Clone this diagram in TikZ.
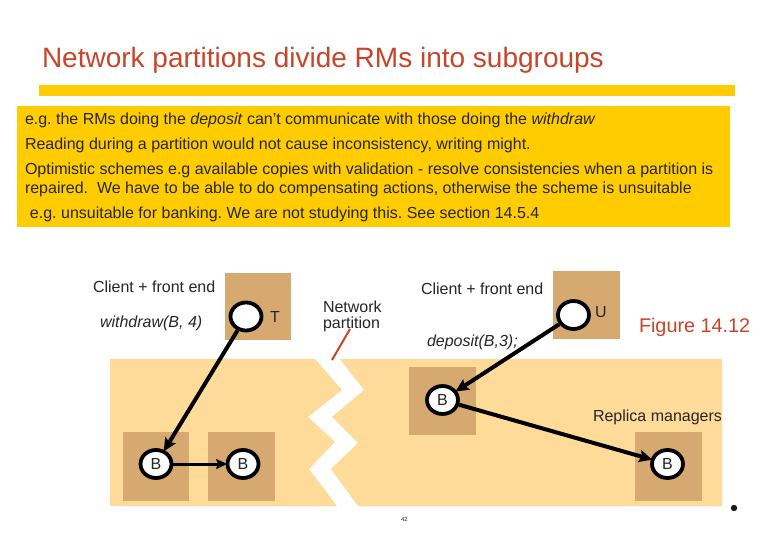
\documentclass[tikz,border=0pt]{standalone}
\usepackage{fontspec}
\setmainfont{Liberation Sans}
\usetikzlibrary{arrows.meta,shapes.geometric}
\definecolor{barY}{HTML}{FFCC00}
\definecolor{zone}{HTML}{FFDB99}
\definecolor{tanbox}{HTML}{D6A970}
\definecolor{redt}{HTML}{C8452A}
\tikzset{
  x=1pt,y=-1pt,
  txt/.style={anchor=base west,inner sep=0pt,outer sep=0pt,text=black!85},
  body/.style={txt,font=\fontsize{16}{18}\selectfont\frenchspacing},
  lbl/.style={txt,font=\fontsize{16}{18}\selectfont\frenchspacing},
  tanb/.style={fill=tanbox,draw=none},
  circ/.style={ellipse,draw=black,fill=white,line width=3.8pt,minimum width=31pt,minimum height=28pt,inner sep=0pt,font=\fontsize{16}{18}\selectfont,text=black!85},
  conn/.style={line width=4pt,draw=black,-{Stealth[length=13pt,width=12pt,inset=2pt]},shorten >=-1.5pt}
}
\begin{document}
\begin{tikzpicture}
\useasboundingbox (0,0) rectangle (780,540);
\fill[white] (0,0) rectangle (780,540);
% title
\node[txt,text=redt,font=\fontsize{28}{32}\selectfont] (title) at (42,68) {Network partitions divide RMs into subgroups};
\fill[barY] (39,85) rectangle (735,96);
\fill[barY] (17,106) rectangle (730,227);
\node[body] (l1) at (25,125) {e.g. the RMs doing the \textit{deposit} can't communicate with those doing the \textit{withdraw}};
\node[body] (l2) at (25,150) {Reading during a partition would not cause inconsistency, writing might.};
\node[body] (l3) at (25,175) {Optimistic schemes e.g available copies with validation - resolve consistencies when a partition is};
\node[body] (l4) at (25,194) {repaired.\ \ We have to be able to do compensating actions, otherwise the scheme is unsuitable};
\node[body] (l5) at (30,219) {e.g. unsuitable for banking. We are not studying this. See section 14.5.4};
% zones
\fill[zone] (110,359) -- (315,359) -- (342,390) -- (308,417) -- (335,442) -- (309,469) -- (337,506) -- (110,506) -- cycle;
\fill[zone] (340,359) -- (722,359) -- (722,506) -- (358,506) -- (331,469) -- (358,443) -- (332,417) -- (364,390) -- cycle;
% tan boxes
\fill[tanb] (225,273) rectangle (291,340);
\fill[tanb] (553,271) rectangle (620,339);
\fill[tanb] (409,367) rectangle (476,435);
\fill[tanb] (635,432) rectangle (702,501);
\fill[tanb] (123,432) rectangle (189,501);
\fill[tanb] (208,432) rectangle (275,501);
% labels
\node[lbl] (cfe1) at (93,293) {Client + front end};
\node[lbl] (cfe2) at (421,295) {Client + front end};
\node[lbl] (wd) at (100,328) {\textit{withdraw(B, 4)}};
\node[lbl] (dp) at (427,347) {\textit{deposit(B,3);}};
\node[lbl] (np1) at (323,313) {Network};
\node[lbl] (np2) at (323,329) {partition};
\node[lbl] (rm) at (593,421) {Replica managers};
\node[txt,text=redt,font=\fontsize{19.8}{22}\selectfont] (fig) at (639,333) {Figure 14.12};
\node[txt,font=\fontsize{6}{7}\selectfont] (pg) at (401,521) {42};
\node[lbl,anchor=base] (tl) at (275,323) {T};
\node[lbl,anchor=base] (ul) at (601,318) {U};
% circles
\node[circ] (T) at (246,316.5) {};
\node[circ] (U) at (573.5,315) {};
\node[circ] (Bm) at (442.5,400) {B};
\node[circ] (Br) at (667.5,464) {B};
\node[circ] (Bl) at (156,464) {B};
\node[circ] (Bn) at (243,464) {B};
% connectors
\draw[conn] (T) -- (Bl);
\draw[conn,line width=3pt,-{Stealth[length=11pt,width=10pt,inset=2pt]}] (Bl) -- (Bn);
\draw[conn] (U) -- (Bm);
\draw[conn] (Bm) -- (Br);
% network partition pointer and dot
\coordinate (npa) at (350,329);
\coordinate (npb) at (332,360);
\draw[redt,line width=2pt] (npa) -- (npb);
\fill[black!90] (734,508) circle (3.2pt);
\end{tikzpicture}
\end{document}
